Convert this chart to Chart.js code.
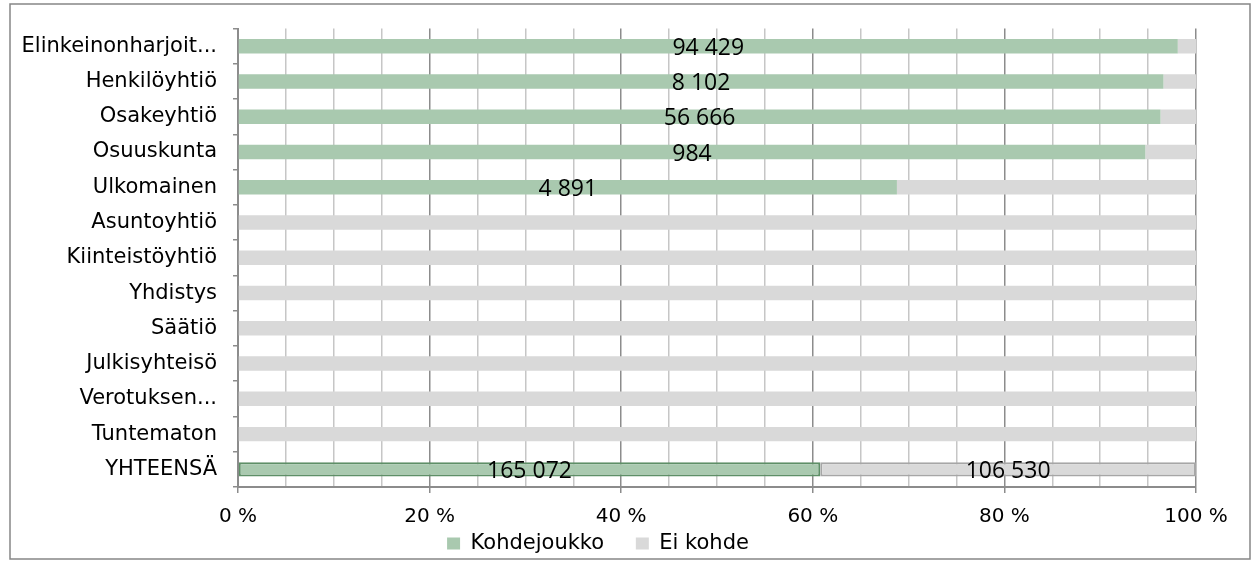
<!DOCTYPE html>
<html>
<head>
<meta charset="utf-8">
<script src="https://cdn.jsdelivr.net/npm/chart.js@4"></script>
<style>
    html, body { margin: 0; padding: 0; background: #fff; }
    #wrap { position: relative; width: 1257px; height: 561px; }
</style>
</head>
<body>
<div id="wrap"><canvas id="chart"></canvas></div>
<script>
const categories = ["Elinkeinonharjoit...", "Henkilöyhtiö", "Osakeyhtiö", "Osuuskunta", "Ulkomainen",
    "Asuntoyhtiö", "Kiinteistöyhtiö", "Yhdistys", "Säätiö", "Julkisyhteisö", "Verotuksen...", "Tuntematon", "YHTEENSÄ"];

// counts per group (Ei kohde values)
const kohdejoukko = [94429, 8102, 56666, 984, 4891, 0, 0, 0, 0, 0, 0, 0, 165072];
const eiKohde = [1830, 285, 2180, 55, 2220, 38000, 21500, 27000, 2400, 1900, 7700, 1460, 106530];

const tickLabels = ["0 %", "20 %", "40 %", "60 %", "80 %", "100 %"];

const greenFill = "#a9c9af";
const greyFill = "#d9d9d9";
const axisGrey = "#8c8c8c";
const lastRow = categories.length - 1;

// share of each row in percent
const kohdePct = [];
const eiPct = [];
for (let i = 0; i < categories.length; i++) {
    const total = kohdejoukko[i] + eiKohde[i];
    kohdePct.push(kohdejoukko[i] / total * 100);
    eiPct.push(eiKohde[i] / total * 100);
}

function formatCount(n) {
    return n.toString().replace(/\B(?=(\d{3})+(?!\d))/g, " ");
}

const frame = {
    id: "frame",
    beforeDraw(chart) {
        const ctx = chart.ctx;
        ctx.save();
        ctx.fillStyle = "#fff";
        ctx.fillRect(0, 0, chart.width, chart.height);
        ctx.strokeStyle = "#868686";
        ctx.lineWidth = 1.5;
        ctx.strokeRect(10, 4, 1240, 555);
        ctx.restore();
    }
};

const valueLabels = {
    id: "valueLabels",
    afterDatasetsDraw(chart) {
        const ctx = chart.ctx;
        const counts = [kohdejoukko, eiKohde];
        ctx.save();
        ctx.font = "23px 'Open Sans'";
        ctx.fillStyle = "#000";
        ctx.textAlign = "center";
        ctx.textBaseline = "middle";
        chart.data.datasets.forEach((ds, d) => {
            chart.getDatasetMeta(d).data.forEach((bar, i) => {
                const show = d === 0 ? counts[0][i] > 0 : i === lastRow;
                if (!show) return;
                ctx.fillText(formatCount(counts[d][i]), (bar.x + bar.base) / 2, bar.y + 2);
            });
        });
        ctx.restore();
    }
};

const chartCanvas = document.getElementById("chart");

new Chart(chartCanvas.getContext("2d"), {
    type: "bar",
    data: {
        labels: categories,
        datasets: [{
            label: "Kohdejoukko",
            data: kohdePct,
            backgroundColor: greenFill,
            borderColor: "#5e8f67",
            borderWidth: (c) => c.dataIndex === lastRow ? 2 : 0,
            borderSkipped: false,
        },
        {
            label: "Ei kohde",
            data: eiPct,
            backgroundColor: greyFill,
            borderColor: "#a6a6a6",
            borderWidth: (c) => c.dataIndex === lastRow ? 2 : 0,
            borderSkipped: false,
        }],
    },
    options: {
        indexAxis: "y",
        responsive: true,
        maintainAspectRatio: false,
        animation: false,
        datasets: { bar: { categoryPercentage: 1, barPercentage: 0.41 } },
        layout: { padding: { top: 28, right: 61, bottom: -3, left: 0 } },
        scales: {
            x: {
                stacked: true,
                min: 0,
                max: 100,
                afterFit: (s) => { s.height = 41; },
                ticks: {
                    stepSize: 5,
                    autoSkip: false,
                    maxRotation: 0,
                    padding: 12,
                    color: "#000",
                    font: { family: "'DejaVu Sans'", size: 20 },
                    callback: (v) => v % 20 === 0 ? tickLabels[v / 20] : "",
                },
                grid: {
                    color: (c) => c.tick && c.tick.value % 20 === 0 ? axisGrey : "#c6c6c6",
                    tickColor: (c) => c.tick && c.tick.value % 20 === 0 ? axisGrey : "rgba(0,0,0,0)",
                    tickLength: 6,
                    lineWidth: 1.5,
                },
                border: { color: axisGrey, width: 2 },
            },
            y: {
                stacked: true,
                afterFit: (s) => { s.width = 238; },
                ticks: {
                    padding: 16,
                    color: "#000",
                    font: { family: "'DejaVu Sans'", size: 21 },
                },
                grid: {
                    drawOnChartArea: false,
                    color: axisGrey,
                    tickLength: 5,
                    lineWidth: 1.5,
                },
                border: { color: axisGrey, width: 2 },
            },
        },
        plugins: {
            legend: {
                position: "bottom",
                labels: {
                    boxWidth: 13,
                    boxHeight: 12,
                    padding: 5,
                    color: "#000",
                    font: { family: "'DejaVu Sans'", size: 21 },
                    // widen the gap after the first item
                    generateLabels: (chart) => {
                        const items = Chart.defaults.plugins.legend.labels.generateLabels(chart);
                        items[0].text += "    ";
                        return items;
                    },
                },
            },
            tooltip: { enabled: false },
        },
    },
    plugins: [frame, valueLabels],
});
</script>
</body>
</html>
